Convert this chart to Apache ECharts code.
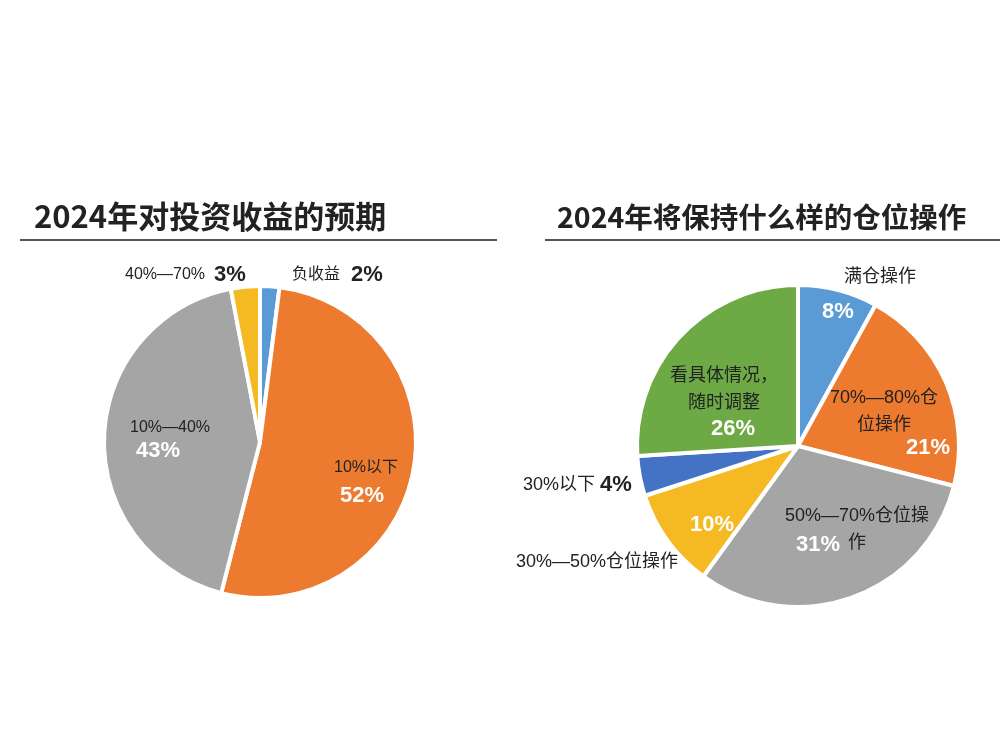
<!DOCTYPE html>
<html>
<head>
<meta charset="utf-8">
<script src="https://cdn.jsdelivr.net/npm/echarts@6/dist/echarts.min.js"></script>
<style>
  html, body { margin: 0; padding: 0; background: #fff; }
  #main { width: 1000px; height: 750px; }
</style>
</head>
<body>
<div id="main"></div>
<script>
// 左图：2024年对投资收益的预期
var leftNames = ['负收益', '10%以下', '10%—40%', '40%—70%'];
var leftValues = [2, 52, 43, 3];
var leftColors = ['#5B9BD5', '#EC7B30', '#A5A5A5', '#F4B923'];
var leftPctColors = ['#222', '#fff', '#fff', '#222'];
var leftNamePos = [[316, 275], [366, 468], [170, 428], [165, 275]];
var leftPctPos = [[367, 275], [362, 496], [158, 451], [230, 275]];

// 右图：2024年将保持什么样的仓位操作
var rightNames = ['满仓操作', '70%—80%仓位操作', '50%—70%仓位操作', '30%—50%仓位操作', '30%以下', '看具体情况，随时调整'];
var rightLabelText = ['满仓操作', '70%—80%仓\n位操作', '50%—70%仓位操\n作', '30%—50%仓位操作', '30%以下', '看具体情况，\n随时调整'];
var rightValues = [8, 21, 31, 10, 4, 26];
var rightColors = ['#5B9BD5', '#EC7B30', '#A5A5A5', '#F4B923', '#4472C4', '#6DAA45'];
var rightPctColors = ['#fff', '#fff', '#fff', '#fff', '#222', '#fff'];
var rightNamePos = [[880, 277], [884, 412], [857, 530], [597, 562], [559, 485], [724, 390]];
var rightPctPos = [[838, 312], [928, 448], [818, 545], [712, 525], [616, 485], [733, 429]];

var FONT = "'Liberation Sans', 'Noto Sans CJK SC', sans-serif";

function pieData(names, values, colors, pctColors) {
    return names.map(function (n, i) {
        return {
            name: n,
            value: values[i],
            itemStyle: { color: colors[i] },
            label: { color: pctColors[i] }
        };
    });
}

function nameData(names, values, texts) {
    return names.map(function (n, i) {
        return { name: n, value: values[i], labelText: texts[i] };
    });
}

function posLayout(pos) {
    return function (params) {
        var p = pos[params.dataIndex];
        return { x: p[0], y: p[1], align: 'center', verticalAlign: 'middle' };
    };
}

function slices(center, radius, names, values, colors, pctColors, pctPos) {
    return {
        type: 'pie',
        center: center,
        radius: radius,
        startAngle: 90,
        clockwise: true,
        avoidLabelOverlap: false,
        animation: false,
        itemStyle: { borderColor: '#fff', borderWidth: 4 },
        emphasis: { disabled: true },
        labelLine: { show: false },
        label: {
            show: true,
            position: 'inside',
            formatter: '{c}%',
            fontFamily: FONT,
            fontWeight: 'bold',
            fontSize: 22
        },
        labelLayout: posLayout(pctPos),
        data: pieData(names, values, colors, pctColors)
    };
}

function nameLabels(center, radius, names, values, texts, pos, size) {
    return {
        type: 'pie',
        center: center,
        radius: radius,
        startAngle: 90,
        clockwise: true,
        silent: true,
        animation: false,
        avoidLabelOverlap: false,
        z: 5,
        itemStyle: { color: 'rgba(0,0,0,0)', borderWidth: 0 },
        emphasis: { disabled: true },
        labelLine: { show: false },
        label: {
            show: true,
            position: 'inside',
            color: '#222',
            fontFamily: FONT,
            fontSize: size,
            lineHeight: size + 9,
            formatter: function (p) { return p.data.labelText; }
        },
        labelLayout: posLayout(pos),
        data: nameData(names, values, texts)
    };
}

var chart = echarts.init(document.getElementById('main'), null, { renderer: 'canvas' });
var option = {
    backgroundColor: '#fff',
    title: [
        {
            text: '2024年对投资收益的预期',
            left: 29,
            top: 196,
            textStyle: { fontFamily: "'Noto Sans CJK SC', sans-serif", fontSize: 31, fontWeight: 'bold', color: '#222' }
        },
        {
            text: '2024年将保持什么样的仓位操作',
            left: 552,
            top: 198,
            textStyle: { fontFamily: "'Noto Sans CJK SC', sans-serif", fontSize: 28.5, fontWeight: 'bold', color: '#222' }
        }
    ],
    graphic: [
        { type: 'line', shape: { x1: 20, y1: 240, x2: 497, y2: 240 }, style: { stroke: '#555', lineWidth: 2 } },
        { type: 'line', shape: { x1: 545, y1: 240, x2: 1000, y2: 240 }, style: { stroke: '#555', lineWidth: 2 } }
    ],
    series: [
        slices([260, 442], 156, leftNames, leftValues, leftColors, leftPctColors, leftPctPos),
        nameLabels([260, 442], 156, leftNames, leftValues, leftNames, leftNamePos, 16),
        slices([798, 446], 161, rightNames, rightValues, rightColors, rightPctColors, rightPctPos),
        nameLabels([798, 446], 161, rightNames, rightValues, rightLabelText, rightNamePos, 18)
    ]
};
chart.setOption(option);
</script>
</body>
</html>
